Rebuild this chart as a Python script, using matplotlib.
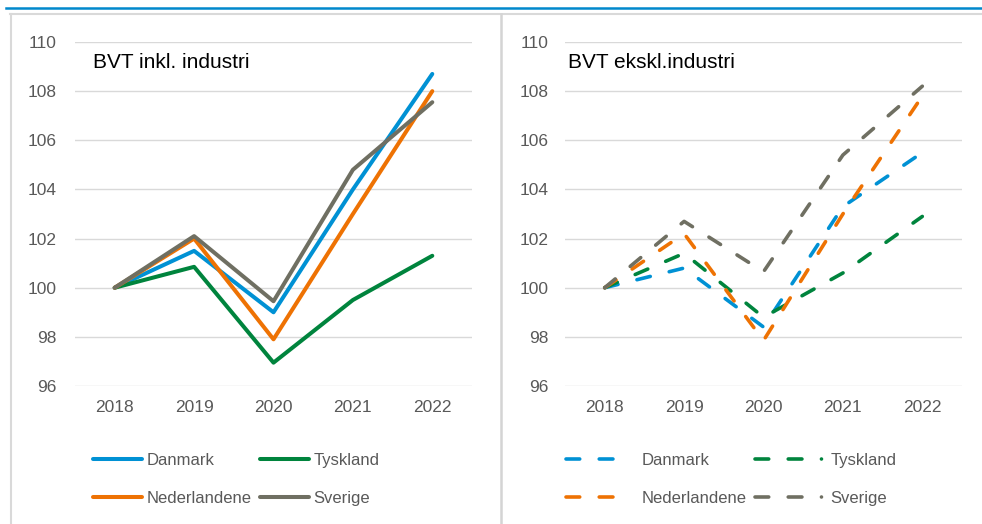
import matplotlib.pyplot as plt
from matplotlib.lines import Line2D

plt.rcParams['font.family'] = ['Liberation Sans', 'DejaVu Sans']

years = ['2018', '2019', '2020', '2021', '2022']
countries = ['Danmark', 'Tyskland', 'Nederlandene', 'Sverige']
colors = ['#0091d4', '#00843d', '#ee7203', '#6f6f62']

# BVT inkl. industri (index 2018 = 100)
incl_dk = [100, 101.5, 99.0, 104.0, 108.7]
incl_de = [100, 100.85, 96.95, 99.5, 101.3]
incl_nl = [100, 102.0, 97.9, 103.0, 108.0]
incl_se = [100, 102.1, 99.45, 104.8, 107.55]

# BVT ekskl. industri
excl_dk = [100, 100.8, 98.4, 103.3, 105.5]
excl_de = [100, 101.4, 98.8, 100.6, 102.9]
excl_nl = [100, 102.2, 97.85, 103.0, 107.8]
excl_se = [100, 102.7, 100.65, 105.4, 108.2]

W, H = 982, 524
fig = plt.figure(figsize=(W / 100, H / 100), dpi=100)

def px_axes(x0, x1, ytop, ybot):
    return fig.add_axes([x0 / W, 1 - ybot / H, (x1 - x0) / W, (ybot - ytop) / H])

ax1 = px_axes(75, 472, 42, 386)
ax2 = px_axes(565, 962, 42, 386)

grey_txt = '#595959'
dash = (3.8, 5.4)

def style(ax, title, tx, ypad):
    ax.set_ylim(96, 110)
    ax.set_yticks([96, 98, 100, 102, 104, 106, 108, 110])
    ax.set_xlim(-0.5, 4.5)
    ax.set_xticks(range(len(years)))
    ax.set_xticklabels(years)
    ax.grid(axis='y', color='#d9d9d9', linewidth=1.0)
    ax.set_axisbelow(True)
    for s in ax.spines.values():
        s.set_visible(False)
    ax.tick_params(length=0, labelsize=12.5, labelcolor=grey_txt)
    ax.tick_params(axis='x', pad=10)
    ax.tick_params(axis='y', pad=ypad)
    ax.text(tx, 0.939, title, transform=ax.transAxes, fontsize=15,
            ha='left', va='center', color='black')

x = range(len(years))
h1 = []
for vals, c in zip([incl_dk, incl_de, incl_nl, incl_se], colors):
    h1 += ax1.plot(x, vals, color=c, lw=2.9, solid_capstyle='round')
for vals, c in zip([excl_dk, excl_de, excl_nl, excl_se], colors):
    ax2.plot(x, vals, color=c, lw=2.6, dashes=dash, dash_capstyle='round')

style(ax1, 'BVT inkl. industri', 0.045, 13)
style(ax2, 'BVT ekskl.industri', 0.008, 12)

# legend fills column-wise, so reorder to read row-wise
order = [0, 2, 1, 3]

ax1.legend([h1[i] for i in order], [countries[i] for i in order],
           loc='upper left', bbox_to_anchor=(0.045, -0.195), ncol=2, frameon=False,
           fontsize=12, labelcolor=grey_txt, handlelength=2.95, handletextpad=0.3,
           columnspacing=0.45, labelspacing=1.35, borderaxespad=0, borderpad=0)

h2 = []
for i, c in enumerate(colors):
    d = (3.8, 5.4, 3.8, 30) if i in (0, 2) else (3.8, 5.4, 3.8, 5.4, 0.01, 30)
    h2.append(Line2D([], [], color=c, lw=2.6, dashes=d, dash_capstyle='round'))
ax2.legend([h2[i] for i in order], [countries[i] for i in order],
           loc='upper left', bbox_to_anchor=(0.003, -0.195), ncol=2,
           frameon=False, fontsize=12, labelcolor=grey_txt, handlelength=4.15,
           handletextpad=0.35, columnspacing=0.55, labelspacing=1.35,
           borderaxespad=0, borderpad=0)

# panel frames and top rule
fig.add_artist(Line2D([6 / W, 1], [1 - 8 / H] * 2, color='#0088cc', lw=1.8))
fig.add_artist(Line2D([10 / W, 1], [1 - 13.5 / H] * 2, color='#d9d9d9', lw=1.5))
fig.add_artist(Line2D([10.5 / W] * 2, [0, 1 - 13.5 / H], color='#d9d9d9', lw=1.5))
fig.add_artist(Line2D([501 / W] * 2, [0, 1 - 13.5 / H], color='#d4d4d4', lw=1.8))

fig.savefig('out.png', dpi=100)
